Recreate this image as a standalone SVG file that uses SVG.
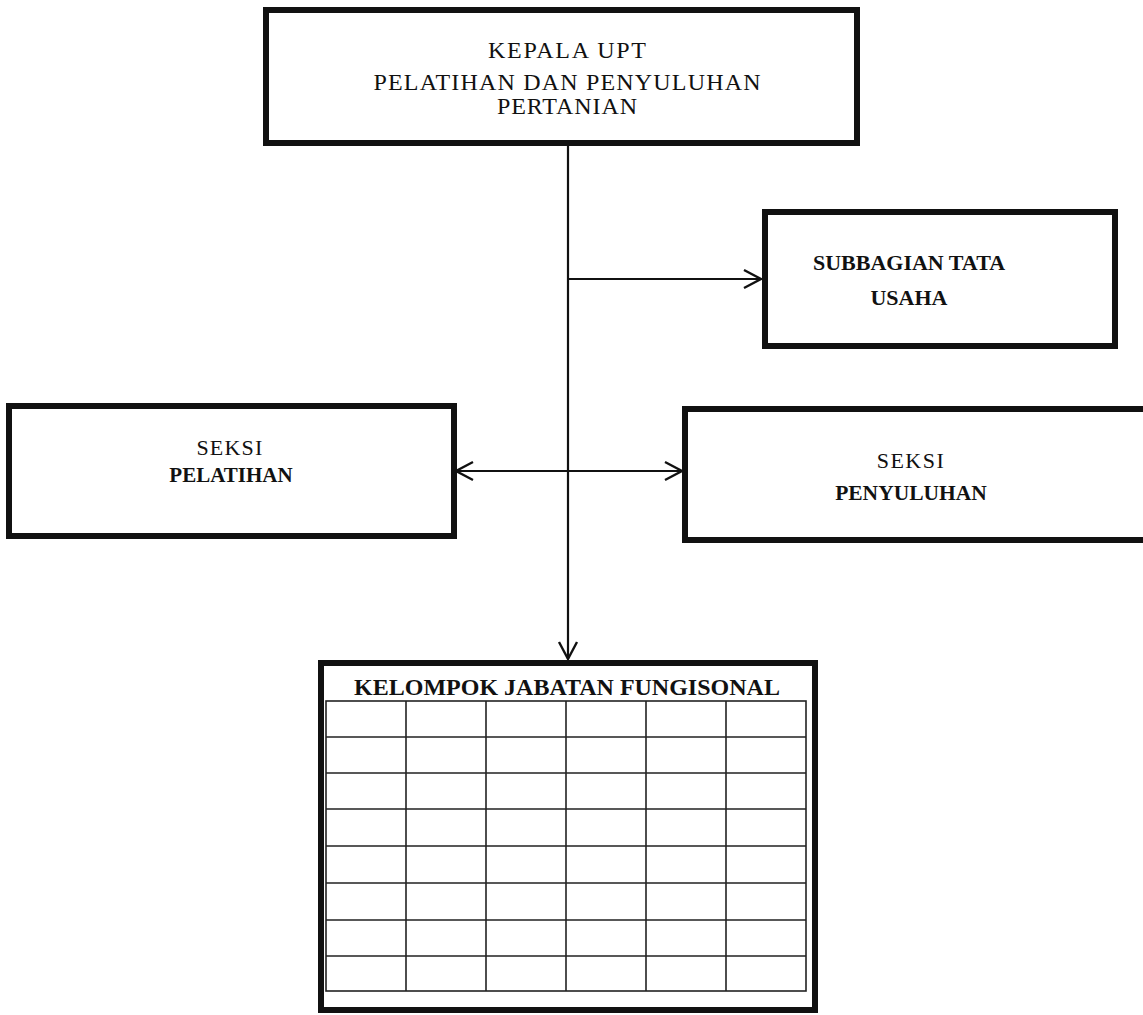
<svg xmlns="http://www.w3.org/2000/svg" width="1143" height="1015" viewBox="0 0 1143 1015">
<style>
.box{fill:#fff;stroke:#111;stroke-width:6}
.t{font-family:"Liberation Serif","Times New Roman",serif;fill:#111;text-anchor:middle}
.b{font-weight:bold}
.conn{stroke:#111;stroke-width:2.2;fill:none}
.grid{stroke:#222;stroke-width:1.6;fill:none}
</style>
<defs>
<marker id="arr" markerUnits="userSpaceOnUse" markerWidth="24" markerHeight="24" viewBox="-20 -12 24 24" refX="0" refY="0" orient="auto-start-reverse" overflow="visible">
<path d="M-17,-9 L0,0 L-17,9" fill="none" stroke="#111" stroke-width="2.4"/>
</marker>
</defs>
<rect width="1143" height="1015" fill="#fff"/>
<g id="connectors">
<line class="conn" x1="568" y1="144" x2="568" y2="659" marker-end="url(#arr)"/>
<line class="conn" x1="568" y1="279" x2="761" y2="279" marker-end="url(#arr)"/>
<line class="conn" x1="456" y1="471" x2="682" y2="471" marker-start="url(#arr)" marker-end="url(#arr)"/>
</g>
<g id="kepala">
<rect class="box" x="266" y="10" width="591" height="133"/>
<text class="t" x="567" y="58" font-size="24" textLength="158" lengthAdjust="spacing">KEPALA UPT</text>
<text class="t" x="567" y="90" font-size="24" textLength="387" lengthAdjust="spacing">PELATIHAN DAN PENYULUHAN</text>
<text class="t" x="567" y="114" font-size="24" textLength="140" lengthAdjust="spacing">PERTANIAN</text>
</g>
<g id="subbagian">
<rect class="box" x="765" y="212" width="350" height="134"/>
<text class="t b" x="909" y="270" font-size="22">SUBBAGIAN TATA</text>
<text class="t b" x="909" y="305" font-size="22">USAHA</text>
</g>
<g id="seksi-pelatihan">
<rect class="box" x="9" y="406" width="445" height="130"/>
<text class="t" x="230" y="455" font-size="22" letter-spacing="1.2">SEKSI</text>
<text class="t b" x="231" y="482" font-size="21">PELATIHAN</text>
</g>
<g id="seksi-penyuluhan">
<rect class="box" x="685" y="409" width="462" height="131"/>
<text class="t" x="911" y="468" font-size="22" letter-spacing="1.5">SEKSI</text>
<text class="t b" x="911" y="500" font-size="21.5">PENYULUHAN</text>
</g>
<g id="kelompok">
<rect class="box" x="321" y="663" width="494" height="347"/>
<text class="t b" x="567" y="695" font-size="24">KELOMPOK JABATAN FUNGISONAL</text>
<g class="grid">
<rect x="326" y="701" width="480" height="290"/>
<path d="M406,701V991M486,701V991M566,701V991M646,701V991M726,701V991"/>
<path d="M326,737H806M326,773H806M326,809H806M326,846H806M326,883H806M326,920H806M326,956H806"/>
</g>
</g>
</svg>
